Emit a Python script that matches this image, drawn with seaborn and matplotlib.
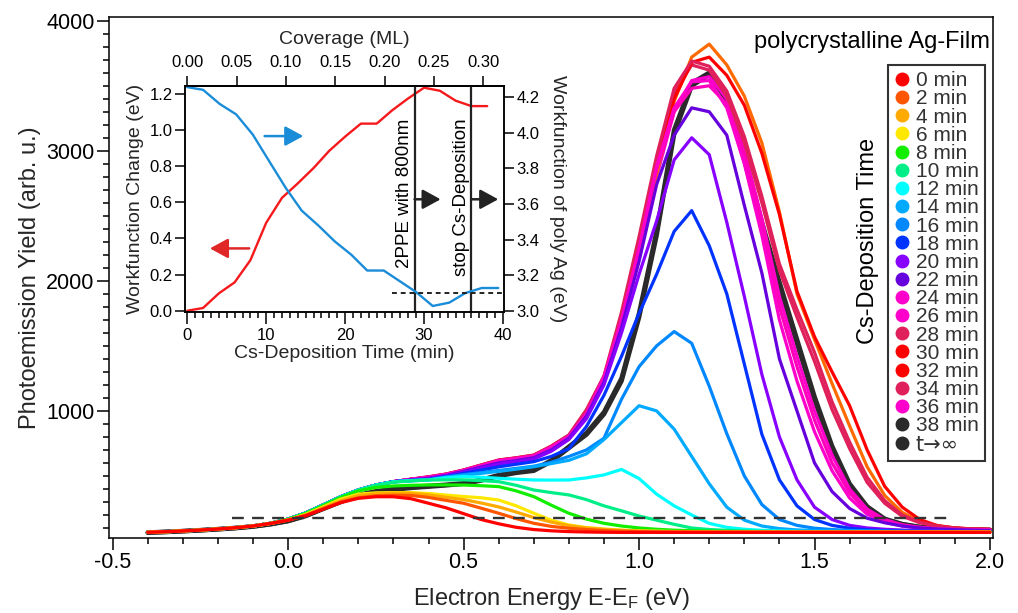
import numpy as np
import pandas as pd
import matplotlib
matplotlib.use("Agg")
import matplotlib.pyplot as plt
from matplotlib.lines import Line2D
from matplotlib.ticker import MultipleLocator, FixedLocator
import seaborn as sns

# ---------------------------------------------------------------- data
energy = np.round(np.linspace(-0.4, 2.0, 49), 2)

t0 = [67,71,77,84,92,102,115,135,160,
      195,245,295,328,340,
      340,325,290,255,210,
      165,132,105,88,78,
      72,69,67,66,66,
      66,66,66,66,66,
      66,66,66,66,66,
      66,66,66,66,66,
      66,66,66,66,66]
t2 = [67,71,77,84,92,102,115,135,160,
      196,248,300,332,348,
      352,350,335,312,290,
      252,213,172,136,112,
      98,88,80,75,72,
      70,69,68,68,68,
      68,68,68,68,68,
      68,68,68,68,68,
      68,68,68,68,68]
t4 = [67,71,77,84,92,102,115,135,162,
      200,255,310,350,362,
      368,366,355,336,318,
      292,262,222,180,145,
      118,100,89,81,76,
      73,72,71,70,70,
      70,70,70,70,70,
      70,70,70,70,70,
      70,70,70,70,70]
t6 = [67,71,77,84,92,102,115,135,163,
      205,262,322,360,370,
      372,372,365,353,342,
      332,315,270,213,160,
      123,103,92,84,78,
      75,73,72,71,70,
      70,70,70,70,70,
      70,70,70,70,70,
      70,70,70,70,70]
t8 = [67,71,77,84,92,102,115,136,166,
      212,272,335,385,412,
      423,428,431,431,430,
      425,418,385,341,275,
      213,168,136,115,100,
      90,83,79,76,74,
      72,71,70,70,70,
      70,70,70,70,70,
      70,70,70,70,70]
t10 = [67,71,77,84,92,102,115,136,168,
       214,276,338,390,428,
       452,462,469,470,470,
       464,456,428,392,372,
       354,318,270,232,192,
       160,128,100,88,82,
       78,75,73,72,71,
       70,70,70,70,70,
       70,70,70,70,70]
t12 = [67,71,77,84,92,102,115,136,168,
       215,277,340,392,430,
       455,465,469,485,495,
       490,482,475,469,468,
       469,485,508,550,480,
       360,270,200,135,105,
       90,82,77,74,72,
       71,70,70,70,70,
       70,70,70,70,70]
t14 = [67,71,77,84,92,102,115,136,168,
       215,277,340,392,430,
       455,462,469,490,505,
       520,535,552,571,595,
       620,670,780,910,1040,
       1000,860,650,440,260,
       160,115,95,85,80,
       77,75,74,73,72,
       72,72,72,72,72]
t16 = [67,71,77,84,92,102,115,136,168,
       215,277,340,392,430,
       455,464,471,492,510,
       526,542,558,575,605,
       650,700,790,1090,1340,
       1500,1610,1520,1190,825,
       500,280,165,120,98,
       88,81,77,75,74,
       73,73,72,72,72]
t18 = [67,71,77,84,92,102,115,136,168,
       215,277,340,392,430,
       456,466,473,494,520,
       545,570,590,610,650,
       710,880,1120,1420,1750,
       2050,2380,2540,2270,1900,
       1360,820,470,270,165,
       120,98,86,80,77,
       75,74,74,73,73]
t20 = [67,71,77,84,92,102,115,136,168,
       215,277,340,392,430,
       456,468,478,500,530,
       560,590,610,630,690,
       780,940,1200,1600,2050,
       2460,2930,3100,2970,2450,
       1880,1280,800,470,260,
       165,120,100,90,84,
       80,78,76,75,74]
t22 = [67,71,77,84,92,102,115,136,168,
       215,277,340,392,430,
       456,470,482,504,535,
       568,600,618,640,700,
       790,960,1220,1640,2150,
       2740,3120,3330,3300,3120,
       2580,2060,1400,1000,600,
       380,250,175,140,115,
       100,92,87,83,80]
t24 = [67,71,77,84,92,102,115,136,168,
       215,277,340,392,430,
       456,475,490,510,540,
       578,615,632,652,720,
       805,980,1260,1700,2250,
       2880,3330,3530,3540,3330,
       2900,2350,1700,1230,840,
       540,330,205,145,115,
       100,92,88,85,83]
t26 = [67,71,77,84,92,102,115,136,168,
       215,277,340,392,430,
       456,474,490,512,543,
       580,618,635,655,722,
       800,975,1250,1680,2230,
       2860,3300,3480,3500,3360,
       2960,2430,1800,1340,930,
       600,370,225,155,120,
       103,94,89,86,84]
t28 = [67,71,77,84,92,102,115,136,168,
       215,277,340,392,430,
       456,475,494,515,546,
       585,623,640,661,730,
       815,1010,1270,1760,2340,
       2960,3480,3690,3650,3460,
       3110,2650,2130,1780,1450,
       1070,760,490,310,200,
       145,115,100,93,90]
t30 = [67,71,77,84,92,102,115,136,168,
       215,277,340,392,430,
       456,474,492,513,544,
       582,620,638,658,728,
       812,1000,1260,1720,2270,
       2870,3400,3680,3720,3580,
       3350,2980,2510,1920,1570,
       1300,1040,700,420,260,
       165,118,100,93,90]
t32 = [67,71,77,84,92,102,115,136,168,
       215,277,340,392,430,
       456,473,490,511,542,
       580,618,636,656,725,
       808,990,1240,1680,2220,
       2820,3380,3720,3820,3660,
       3420,3060,2530,1900,1550,
       1210,885,570,350,220,
       150,118,100,88,80]
t34 = [67,71,77,84,92,102,115,136,168,
       215,277,340,392,430,
       456,474,492,514,545,
       583,621,638,659,728,
       810,1000,1260,1730,2300,
       2920,3440,3660,3620,3420,
       3060,2600,2080,1720,1380,
       1010,710,450,290,190,
       140,112,98,92,88]
t36 = [67,71,77,84,92,102,115,136,168,
       215,277,340,392,430,
       456,474,490,511,541,
       578,616,634,654,722,
       790,950,1230,1640,2180,
       2800,3300,3540,3570,3400,
       3000,2480,1880,1420,1000,
       660,400,245,165,125,
       106,96,90,87,85]
t38 = [65,70,76,83,91,100,112,130,155,
       195,251,305,354,382,
       400,413,423,432,443,
       470,507,530,546,620,
       725,830,990,1250,1750,
       2380,3160,3520,3600,3410,
       2960,2450,1990,1550,1110,
       730,440,265,170,130,
       108,98,92,88,85]
t_inf = [64,69,75,82,90,99,111,129,153,
         192,247,300,348,376,
         395,408,418,428,440,
         465,500,524,540,612,
         715,818,975,1230,1720,
         2350,3130,3500,3585,3390,
         2930,2420,1960,1520,1085,
         710,425,258,166,127,
         106,96,90,86,83]

labels = ["0 min", "2 min", "4 min", "6 min", "8 min", "10 min", "12 min",
          "14 min", "16 min", "18 min", "20 min", "22 min", "24 min",
          "26 min", "28 min", "30 min", "32 min", "34 min", "36 min",
          "38 min", "t\u2192\u221e"]
spectra = [t0, t2, t4, t6, t8, t10, t12, t14, t16, t18, t20, t22, t24,
           t26, t28, t30, t32, t34, t36, t38, t_inf]

legend_colors = ["#ff0000", "#ff5500", "#ffaa00", "#ffe800", "#11ee00",
                 "#00ee88", "#00ffff", "#00aaff", "#0088ff", "#0033ff",
                 "#8800ff", "#6600dd", "#ff00cc", "#ff00cc", "#e0205a",
                 "#ff0000", "#ff0000", "#e0205a", "#ff00cc", "#2a2a2a",
                 "#2a2a2a"]
line_colors = ["#ff0000", "#ff5500", "#ffaa00", "#ffe800", "#11ee00",
               "#00ee88", "#00ffff", "#00aaff", "#0088ff", "#0033ff",
               "#8800ff", "#6600dd", "#ff00cc", "#ff00bb", "#e0205a",
               "#ff0000", "#ff6a00", "#e0205a", "#ff00cc", "#2a2a2a",
               "#2a2a2a"]

threshold_level = 180
threshold_span = (-0.16, 1.886)

# inset: workfunction change (left axis) and absolute workfunction (right axis)
change_time = [0, 2, 4, 6, 8, 10, 12, 14, 16, 18, 20, 22, 24, 26, 28, 30,
               32, 34, 36, 38]
wf_change = [0.0, 0.015, 0.096, 0.157, 0.28, 0.487, 0.625, 0.705, 0.79,
             0.886, 0.964, 1.036, 1.036, 1.111, 1.176, 1.235, 1.218, 1.163,
             1.133, 1.133]
wf_time = [0, 2.0, 4.1, 6.2, 8.3, 10.4, 12.5, 14.5, 16.6, 18.7, 20.8, 22.8,
           24.9, 27.0, 29.0, 31.1, 33.2, 35.2, 37.3, 39.4]
wf_abs = [4.256, 4.241, 4.162, 4.103, 3.99, 3.839, 3.689, 3.563, 3.48, 3.39,
          3.315, 3.227, 3.227, 3.165, 3.106, 3.028, 3.047, 3.10, 3.129, 3.129]
marker_times = [28.8, 36.0]
ref_level = 3.103
ref_span = (25.9, 40.1)
ml_per_min = 0.008

# ---------------------------------------------------------------- style
sns.set_theme(style="ticks")
plt.rcParams["font.family"] = ["Liberation Sans", "DejaVu Sans"]
plt.rcParams["mathtext.default"] = "regular"
plt.rcParams["axes.edgecolor"] = "black"
plt.rcParams["xtick.color"] = "black"
plt.rcParams["ytick.color"] = "black"

fig = plt.figure(figsize=(10.18, 6.13), dpi=100)
ax = fig.add_axes([0.1071, 0.1228, 0.8686, 0.8500])

rows = []
for lab, vals in zip(labels, spectra):
    for e, v in zip(energy, vals):
        rows.append((lab, e, v))
df = pd.DataFrame(rows, columns=["time", "energy", "yield"])

# later spectra first so the early ones sit on top
for lab, col in reversed(list(zip(labels, line_colors))):
    sub = df[df["time"] == lab]
    lw = 3.3 if col == "#2a2a2a" else 2.3
    sns.lineplot(data=sub, x="energy", y="yield", color=col, lw=lw,
                 ax=ax, legend=False, sort=False, estimator=None)

ax.hlines(threshold_level, *threshold_span, colors="#333333", lw=1.7,
          linestyles=(0, (5, 3.5)), zorder=3)

ax.set_xlim(-0.5105, 2.0094)
ax.set_ylim(25, 4031)
ax.xaxis.set_major_locator(FixedLocator([-0.5, 0.0, 0.5, 1.0, 1.5, 2.0]))
ax.xaxis.set_minor_locator(MultipleLocator(0.1))
ax.yaxis.set_major_locator(MultipleLocator(1000))
ax.yaxis.set_minor_locator(MultipleLocator(100))
ax.set_xticklabels(["-0.5", "0.0", "0.5", "1.0", "1.5", "2.0"])
ax.tick_params(axis="both", which="major", direction="out", length=8.5,
               width=1.1, labelsize=15.5, pad=2)
ax.tick_params(axis="both", which="minor", direction="out", length=4.5,
               width=1.1)
ax.tick_params(top=False, right=False, which="both")
for s in ax.spines.values():
    s.set_linewidth(1.1)
    s.set_color("black")
ax.set_xlabel("Electron Energy E-E$_{F}$ (eV)", fontsize=17, labelpad=9)
ax.set_ylabel("Photoemission Yield (arb. u.)", fontsize=17, labelpad=4)

ax.text(0.9963, 0.951, "polycrystalline Ag-Film", transform=ax.transAxes,
        ha="right", va="center", fontsize=17, color="black")
ax.text(0.858, 0.5695, "Cs-Deposition Time", transform=ax.transAxes,
        rotation=90, ha="center", va="center", fontsize=17, color="black")

handles = [Line2D([], [], marker="o", ls="", color=c, markersize=9)
           for c in legend_colors]
leg = ax.legend(handles, labels, loc="upper right",
                bbox_to_anchor=(0.9906, 0.9073), frameon=True,
                fancybox=False, edgecolor="#333333", framealpha=1,
                fontsize=15, labelspacing=-0.04, handlelength=0.8,
                handletextpad=0.25, borderpad=0.3, borderaxespad=0,
                labelcolor="#333333")
leg.get_frame().set_linewidth(1.5)
leg.get_texts()[-1].set_family(["DejaVu Sans"])

# ---------------------------------------------------------------- inset
ax_in = fig.add_axes([0.1817, 0.4915, 0.3134, 0.3687])
ax_in.set_facecolor("white")
tw = ax_in.twinx()

sns.lineplot(x=change_time, y=wf_change, color="#f5191c", lw=1.7, ax=ax_in,
             sort=False, estimator=None)
sns.lineplot(x=wf_time, y=wf_abs, color="#1a8cd8", lw=1.7, ax=tw,
             sort=False, estimator=None)

for t in marker_times:
    ax_in.axvline(t, color="#222222", lw=1.6)
tw.hlines(ref_level, *ref_span, colors="#222222", lw=1.4,
          linestyles=(0, (2.5, 2)))

arrow_kw = dict(arrowstyle="-|>,head_length=0.55,head_width=0.3",
                mutation_scale=20, lw=1.8, shrinkA=0, shrinkB=0)
ax_in.annotate("", xy=(14.7, 0.967), xytext=(9.8, 0.967),
               arrowprops=dict(color="#1a8cd8", **arrow_kw))
ax_in.annotate("", xy=(2.87, 0.345), xytext=(7.85, 0.345),
               arrowprops=dict(color="#e02828", **arrow_kw))
ax_in.annotate("", xy=(32.1, 0.617), xytext=(28.8, 0.617),
               arrowprops=dict(color="#222222", **arrow_kw))
ax_in.annotate("", xy=(39.4, 0.617), xytext=(36.0, 0.617),
               arrowprops=dict(color="#222222", **arrow_kw))

ax_in.text(27.55, 0.65, "2PPE with 800nm", rotation=90, ha="center",
           va="center", fontsize=13.5, color="black")
ax_in.text(34.7, 0.628, "stop Cs-Deposition", rotation=90, ha="center",
           va="center", fontsize=13.5, color="black")

ax_in.set_xlim(-0.29, 40.13)
ax_in.set_ylim(-0.0055, 1.246)
tw.set_ylim(2.996, 4.264)
ax_in.xaxis.set_major_locator(MultipleLocator(10))
ax_in.xaxis.set_minor_locator(MultipleLocator(1))
ax_in.yaxis.set_major_locator(MultipleLocator(0.2))
tw.yaxis.set_major_locator(MultipleLocator(0.2))
ax_in.yaxis.set_major_formatter(plt.FormatStrFormatter("%.1f"))
tw.yaxis.set_major_formatter(plt.FormatStrFormatter("%.1f"))

ax_in.tick_params(axis="y", which="major", direction="out", length=7,
                  width=1.1, labelsize=12, pad=2)
ax_in.tick_params(axis="x", which="major", direction="out", length=8.5,
                  width=1.1, labelsize=12, pad=3.5)
ax_in.tick_params(axis="x", which="minor", direction="out", length=4.5,
                  width=1.1)
ax_in.tick_params(axis="y", which="minor", left=False)
ax_in.tick_params(top=False, which="both")
tw.tick_params(axis="y", which="major", direction="out", length=7, width=1.1,
               labelsize=12, pad=2)
for a in (ax_in, tw):
    for s in a.spines.values():
        s.set_linewidth(1.1)
        s.set_color("black")

sec = ax_in.secondary_xaxis("top", functions=(lambda t: t * ml_per_min,
                                              lambda c: c / ml_per_min))
sec.xaxis.set_major_locator(MultipleLocator(0.05))
sec.xaxis.set_major_formatter(plt.FormatStrFormatter("%.2f"))
sec.tick_params(direction="out", length=7, width=1.1, labelsize=12, pad=4)
sec.set_xlabel("Coverage (ML)", fontsize=14, labelpad=8)

ax_in.set_xlabel("Cs-Deposition Time (min)", fontsize=14, labelpad=1)
ax_in.set_ylabel("Workfunction Change (eV)", fontsize=14, labelpad=4)
tw.set_ylabel("Workfunction of poly Ag (eV)", fontsize=14, rotation=270,
              labelpad=19)

fig.savefig("out.png", dpi=100)
